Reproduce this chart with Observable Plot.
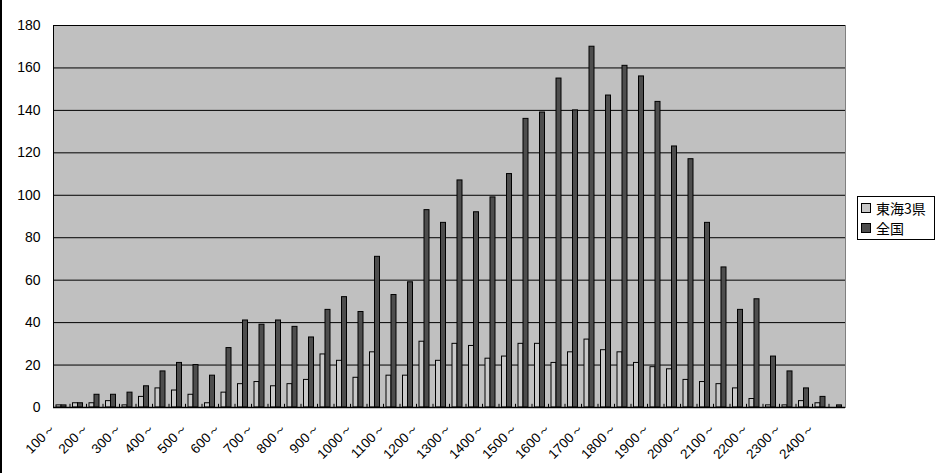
<!DOCTYPE html>
<html>
<head>
<meta charset="utf-8">
<script src="https://cdn.jsdelivr.net/npm/d3@7"></script>
<script src="https://cdn.jsdelivr.net/npm/@observablehq/plot@0.6"></script>
<style>
  html, body { margin: 0; padding: 0; background: #fff; }
  #wrap { position: relative; width: 942px; height: 473px; overflow: hidden; }
  #wrap::before { content: ""; position: absolute; left: 0; top: 0; bottom: 0; width: 2px; background: #000; z-index: 2; }
  #legend { position: absolute; left: 857px; top: 196px; width: 78px; border: 1px solid #000; background: #fff;
    font-family: "Noto Sans CJK JP", sans-serif; font-size: 14px; line-height: 20px; padding: 1px 0 1px 3px; box-sizing: border-box; }
  #legend .item { display: flex; align-items: center; white-space: nowrap; }
  #legend .sw { width: 8px; height: 8px; border: 1px solid #000; margin-right: 5px; }
</style>
</head>
<body>
<div id="wrap"></div>
<script>
const categories = [100,150,200,250,300,350,400,450,500,550,600,650,700,750,800,850,900,950,1000,1050,1100,1150,1200,1250,1300,1350,1400,1450,1500,1550,1600,1650,1700,1750,1800,1850,1900,1950,2000,2050,2100,2150,2200,2250,2300,2350,2400,2450];
const tokai =   [1,2,2,3,1,5,9,8,6,2,7,11,12,10,11,13,25,22,14,26,15,15,31,22,30,29,23,24,30,30,21,26,32,27,26,21,19,18,13,12,11,9,4,1,1,3,2,0];
const zenkoku = [1,2,6,6,7,10,17,21,20,15,28,41,39,41,38,33,46,52,45,71,53,59,93,87,107,92,99,110,136,139,155,140,170,147,161,156,144,123,117,87,66,46,51,24,17,9,5,1];
const seriesNames = ["東海3県", "全国"];
const seriesColors = ["#c8c8c8", "#4d4d4d"];
const yTicks = [0,20,40,60,80,100,120,140,160,180];
const xLabelTicks = categories.filter(c => c % 100 === 0);

const data = categories.map((c, i) => ({cat: c, tokai: tokai[i], zenkoku: zenkoku[i]}));

const chart = Plot.plot({
  width: 942,
  height: 473,
  marginLeft: 53,
  marginRight: 97,
  marginTop: 25,
  marginBottom: 66,
  style: {fontFamily: "'Liberation Sans', Arial, sans-serif", background: "transparent"},
  x: {type: "band", domain: categories, paddingInner: 0, paddingOuter: 0, round: false, label: null},
  y: {domain: [0, 180], label: null},
  marks: [
    Plot.frame({fill: "#c0c0c0", stroke: "#808080"}),
    Plot.ruleY(yTicks.filter(v => v > 0), {stroke: "#000", strokeWidth: 1}),
    Plot.barY(data, {x: "cat", y: "tokai", fill: seriesColors[0], stroke: "#000", strokeWidth: 1, insetLeft: 3, insetRight: 8.5}),
    Plot.barY(data, {x: "cat", y: "zenkoku", fill: seriesColors[1], stroke: "#000", strokeWidth: 1, insetLeft: 8, insetRight: 3.5}),
    Plot.ruleX(categories, {x: d => d, dx: -8.25, y1: 0, y2: 1.5, stroke: "#000"}),
    Plot.ruleY([0], {stroke: "#000", strokeWidth: 1.5}),
    Plot.axisY({ticks: yTicks, tickSize: 0, tickPadding: 13, fontSize: 14, fill: "#000"}),
    Plot.axisX({ticks: xLabelTicks, tickSize: 0, tickPadding: 18, dx: -8, tickRotate: -45, fontSize: 13.5, fill: "#000",
      tickFormat: d => d + "～"}),
    Plot.frame({anchor: "left", stroke: "#000"})
  ]
});

const wrap = document.getElementById("wrap");
wrap.appendChild(chart);

const legend = document.createElement("div");
legend.id = "legend";
seriesNames.forEach((name, i) => {
  const item = document.createElement("div");
  item.className = "item";
  const sw = document.createElement("span");
  sw.className = "sw";
  sw.style.background = seriesColors[i];
  const label = document.createElement("span");
  label.textContent = name;
  item.appendChild(sw);
  item.appendChild(label);
  legend.appendChild(item);
});
wrap.appendChild(legend);
</script>
</body>
</html>
